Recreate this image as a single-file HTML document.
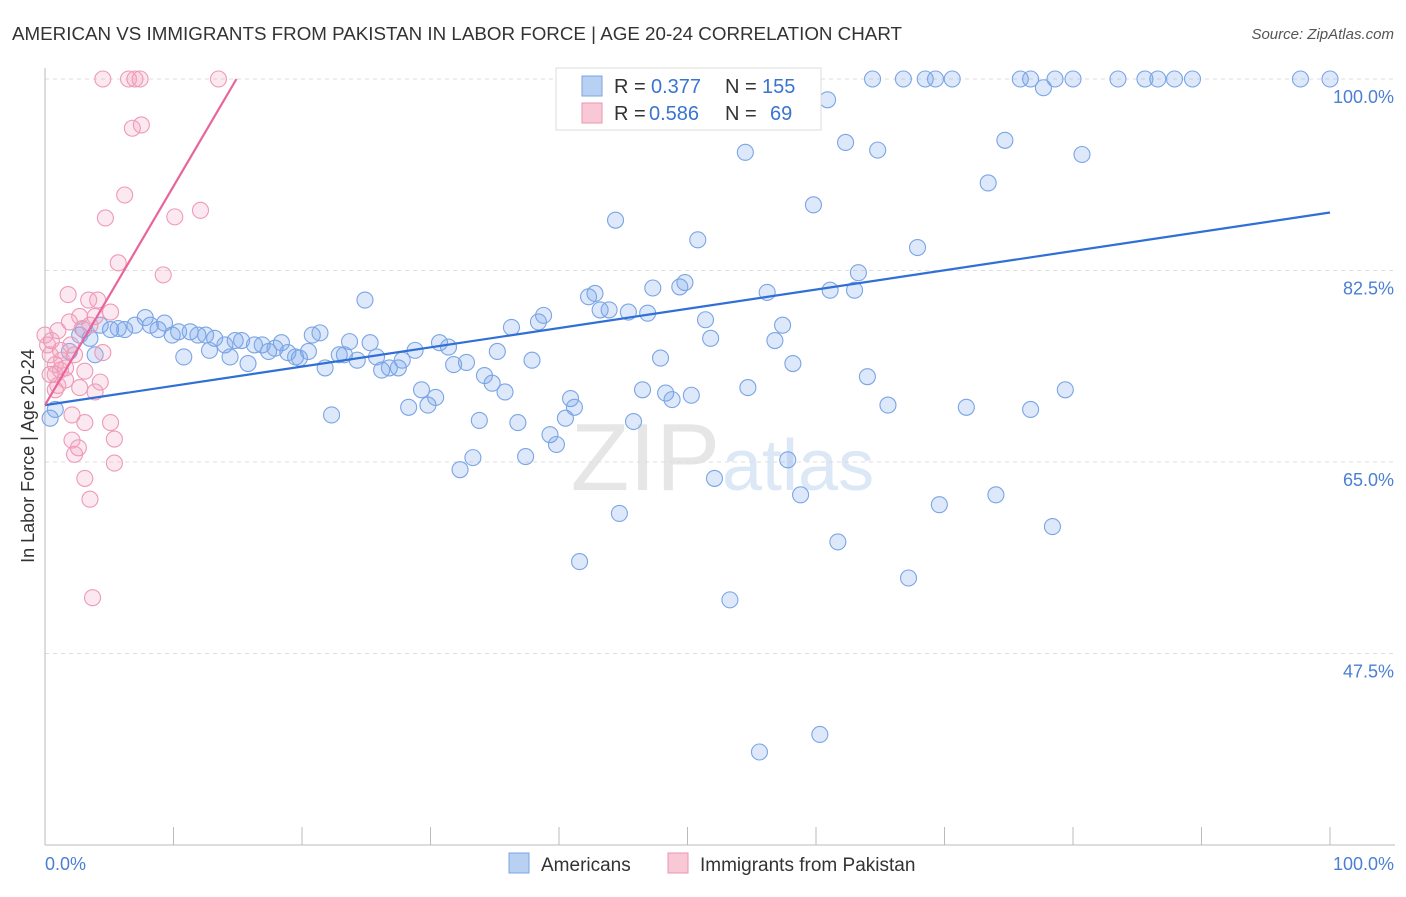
<!DOCTYPE html>
<html><head><meta charset="utf-8"><style>
body{margin:0;background:#fff;font-family:"Liberation Sans",sans-serif;}
svg text{font-family:"Liberation Sans",sans-serif;}
</style></head><body>
<svg width="1406" height="892" xmlns="http://www.w3.org/2000/svg">
<text x="12" y="40" font-size="18" fill="#333" textLength="890" lengthAdjust="spacingAndGlyphs">AMERICAN VS IMMIGRANTS FROM PAKISTAN IN LABOR FORCE | AGE 20-24 CORRELATION CHART</text>
<text x="1394" y="39" font-size="15" fill="#555" font-style="italic" text-anchor="end">Source: ZipAtlas.com</text>
<text x="720" y="490" font-size="96" fill="#e6e6e6" font-family="Liberation Serif" text-anchor="end">ZIP</text>
<text x="722" y="490" font-size="72" fill="#dce8f5">atlas</text>
<g id="grid"></g>
<g id="axes"></g>
<g id="pts"></g>
<text transform="translate(34,456) rotate(-90)" font-size="18" fill="#333" text-anchor="middle">In Labor Force | Age 20-24</text>
<text x="45" y="870" font-size="18" fill="#4a7fd4">0.0%</text>
<text x="1394" y="870" font-size="18" fill="#4a7fd4" text-anchor="end">100.0%</text>
<g>
<rect x="556" y="68" width="265" height="62" fill="#fff" stroke="#ddd"/>
<rect x="582" y="76" width="20" height="20" fill="#b8d0f2" stroke="#7aa5e5"/>
<rect x="582" y="103" width="20" height="20" fill="#f8c8d6" stroke="#eb94b0"/>
<text x="614" y="93" font-size="20" fill="#333">R =</text>
<text x="651" y="93" font-size="20" fill="#3a74d0">0.377</text>
<text x="725" y="93" font-size="20" fill="#333">N =</text>
<text x="762" y="93" font-size="20" fill="#3a74d0">155</text>
<text x="614" y="120" font-size="20" fill="#333">R =</text>
<text x="649" y="120" font-size="20" fill="#3a74d0">0.586</text>
<text x="725" y="120" font-size="20" fill="#333">N =</text>
<text x="770" y="120" font-size="20" fill="#3a74d0">69</text>
</g>
<g>
<rect x="509" y="853" width="20" height="20" fill="#b8d0f2" stroke="#7aa5e5"/>
<text x="541" y="871" font-size="19" fill="#333">Americans</text>
<rect x="668" y="853" width="20" height="20" fill="#f8c8d6" stroke="#eb94b0"/>
<text x="700" y="871" font-size="19" fill="#333">Immigrants from Pakistan</text>
</g>
</svg>
<script>
const yTicks=[100,82.5,65,47.5];
const yTickLabels=["100.0%","82.5%","65.0%","47.5%"];
const xTicks=[0,10,20,30,40,50,60,70,80,90,100];
const americans=[[0.4,69.0],[0.8,69.8],[1.9,75.1],[2.7,76.6],[3.0,77.1],[3.5,76.3],[3.9,74.8],[4.3,77.5],[5.1,77.1],[5.7,77.2],[6.2,77.1],[7.0,77.5],[7.8,78.2],[8.2,77.5],[8.8,77.1],[9.3,77.7],[9.9,76.6],[10.4,76.9],[10.8,74.6],[11.3,76.9],[11.9,76.6],[12.5,76.6],[12.8,75.2],[13.2,76.3],[14.0,75.7],[14.4,74.6],[14.8,76.1],[15.3,76.1],[15.8,74.0],[16.3,75.7],[16.9,75.7],[17.4,75.1],[17.9,75.4],[18.4,75.9],[18.9,75.0],[19.5,74.6],[19.8,74.5],[20.5,75.1],[20.8,76.6],[21.4,76.8],[21.8,73.6],[22.3,69.3],[22.9,74.8],[23.3,74.8],[23.7,76.0],[24.3,74.3],[24.9,79.8],[25.3,75.9],[25.8,74.6],[26.2,73.4],[26.8,73.6],[27.5,73.6],[27.8,74.3],[28.3,70.0],[28.8,75.2],[29.3,71.6],[29.8,70.2],[30.4,70.9],[30.7,75.9],[31.4,75.5],[31.8,73.9],[32.3,64.3],[32.8,74.1],[33.3,65.4],[33.8,68.8],[34.2,72.9],[34.8,72.2],[35.2,75.1],[35.8,71.4],[36.3,77.3],[36.8,68.6],[37.4,65.5],[37.9,74.3],[38.4,77.8],[38.8,78.4],[39.3,67.5],[39.8,66.6],[40.5,69.0],[40.9,70.8],[41.2,70.0],[41.6,55.9],[42.3,80.1],[42.8,80.4],[43.2,78.9],[43.9,78.9],[44.4,87.1],[44.7,60.3],[45.4,78.7],[45.8,68.7],[46.5,71.6],[46.9,78.6],[47.3,80.9],[47.9,74.5],[48.3,71.3],[48.8,70.7],[49.4,81.0],[49.8,81.4],[50.3,71.1],[50.8,85.3],[51.4,78.0],[51.8,76.3],[52.1,63.5],[53.3,52.4],[53.9,100],[54.5,93.3],[54.7,71.8],[55.6,38.5],[56.2,80.5],[56.8,76.1],[57.4,77.5],[57.8,65.2],[58.2,74.0],[58.8,62.0],[59.8,88.5],[60.3,40.1],[60.9,98.1],[61.1,80.7],[61.7,57.7],[62.3,94.2],[63.0,80.7],[63.3,82.3],[64.0,72.8],[64.4,100],[64.8,93.5],[65.6,70.2],[66.8,100],[67.2,54.4],[67.9,84.6],[68.5,100],[69.3,100],[70.6,100],[69.6,61.1],[71.7,70.0],[73.4,90.5],[74.0,62.0],[74.7,94.4],[75.9,100],[76.7,100],[78.6,100],[80.0,100],[77.7,99.2],[76.7,69.8],[78.4,59.1],[79.4,71.6],[80.7,93.1],[83.5,100],[85.6,100],[86.6,100],[87.9,100],[89.3,100],[97.7,100],[100,100]];
const pakistan=[[0,76.6],[0.2,75.7],[0.4,74.8],[0.5,76.1],[0.8,73.9],[0.8,73.0],[1.0,72.0],[1.2,73.4],[1.3,74.3],[1.6,72.5],[1.8,80.3],[1.9,77.8],[2.1,69.3],[2.1,67.0],[2.3,74.8],[2.3,65.7],[2.6,66.3],[2.7,78.3],[2.9,77.2],[3.1,63.5],[3.1,68.6],[3.4,79.8],[3.5,77.5],[3.5,61.6],[3.7,52.6],[3.9,71.4],[3.9,78.3],[4.1,79.8],[4.3,72.3],[4.5,75.0],[4.5,100],[4.7,87.3],[5.1,78.7],[5.1,68.6],[5.4,64.9],[5.4,67.1],[5.7,83.2],[6.2,89.4],[6.5,100],[6.8,95.5],[7.0,100],[7.4,100],[7.5,95.8],[9.2,82.1],[10.1,87.4],[12.1,88.0],[13.5,100],[1.6,73.6],[2.0,75.7],[1.2,75.2],[1.0,77.0],[2.7,71.8],[3.1,73.3],[0.4,73.0],[0.8,71.6]];
const blueTrend=[[0,70.2],[100,87.8]];
const pinkTrend=[[0,70.2],[14.9,100]];
const X=v=>45+v*12.85, Y=v=>79+(100-v)*10.943;
const NS="http://www.w3.org/2000/svg";
function mk(tag,at,parent){const e=document.createElementNS(NS,tag);for(const k in at)e.setAttribute(k,at[k]);document.getElementById(parent).appendChild(e);return e;}
yTicks.forEach((t,i)=>{
 const l=mk('line',{x1:45,x2:1395,y1:Y(t),y2:Y(t),stroke:'#ddd','stroke-dasharray':'4,4'},'grid');
 
 
 const tx=mk('text',{x:1394,y:Y(t)+24,'font-size':18,fill:'#4a7fd4','text-anchor':'end'},'grid');
 tx.textContent=yTickLabels[i];
 
 
});
const ax=mk('line',{x1:45,x2:45,y1:68,y2:845,stroke:'#bbb'},'axes');


const bx=mk('line',{x1:45,x2:1395,y1:845,y2:845,stroke:'#bbb'},'axes');


xTicks.forEach(t=>{const k=mk('line',{x1:X(t),x2:X(t),y1:827,y2:845,stroke:'#bbb'},'axes');
 
 });
americans.forEach(p=>{const c=mk('circle',{cx:X(p[0]),cy:Y(p[1]),r:8,fill:'rgba(120,165,235,0.25)',stroke:'#7aa5e5','stroke-width':1.1},'pts');
 
 });
pakistan.forEach(p=>{const c=mk('circle',{cx:X(p[0]),cy:Y(p[1]),r:8,fill:'rgba(245,165,195,0.25)',stroke:'#ee9ab5','stroke-width':1.1},'pts');
 
 });
const bt=mk('line',{x1:X(blueTrend[0][0]),y1:Y(blueTrend[0][1]),x2:X(blueTrend[1][0]),y2:Y(blueTrend[1][1]),stroke:'#2f6fd6','stroke-width':2.2},'pts');


const pt=mk('line',{x1:X(pinkTrend[0][0]),y1:Y(pinkTrend[0][1]),x2:X(pinkTrend[1][0]),y2:Y(pinkTrend[1][1]),stroke:'#e8649a','stroke-width':2.2},'pts');


</script>
</body></html>
